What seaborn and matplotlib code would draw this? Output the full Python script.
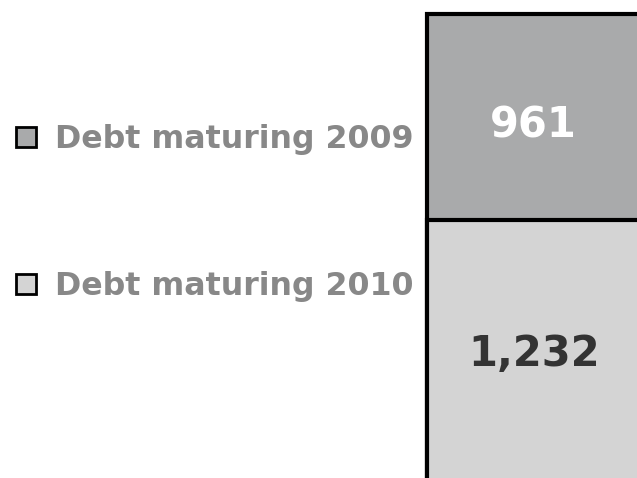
import matplotlib
matplotlib.use("Agg")
import matplotlib.pyplot as plt
from matplotlib.patches import Patch
import pandas as pd
import seaborn as sns

# Debt maturities (stacked in one column)
category = ["Debt"]
series_labels = ["Debt maturing 2009", "Debt maturing 2010"]
debt_2009 = [961]
debt_2010 = [1232]
value_labels_2009 = ["961"]
value_labels_2010 = ["1,232"]

color_2009 = "#a9aaab"
color_2010 = "#d4d4d4"

sns.set_theme(style="white")
plt.rcParams["font.family"] = ["DejaVu Sans"]

df = pd.DataFrame({
    "category": category,
    "d2009": debt_2009,
    "d2010": debt_2010,
})
df["total"] = df["d2009"] + df["d2010"]

fig = plt.figure(figsize=(6.37, 4.78), dpi=100)
ax = fig.add_axes([0, 0, 1, 1])

# Stack: full total drawn first, lower segment drawn over it
sns.barplot(data=df, x="category", y="total", color=color_2009,
            edgecolor="black", linewidth=3, saturation=1, ax=ax)
sns.barplot(data=df, x="category", y="d2010", color=color_2010,
            edgecolor="black", linewidth=3, saturation=1, ax=ax)

ax.set_xlim(-2.003, 0.388)
ax.set_ylim(35, 2257)
ax.set_axis_off()

for i, row in df.iterrows():
    ax.text(i, row["d2010"] + row["d2009"] / 2 - 20, value_labels_2009[i],
            ha="center", va="center_baseline", color="white",
            fontsize=30, fontweight="bold")
    ax.text(i, row["d2010"] / 2 + 15, value_labels_2010[i],
            ha="center", va="center_baseline", color="#333333",
            fontsize=30, fontweight="bold")

handles = [
    Patch(facecolor=color_2009, edgecolor="black", linewidth=2),
    Patch(facecolor=color_2010, edgecolor="black", linewidth=2),
]
fig.legend(handles, series_labels, loc="center left",
           bbox_to_anchor=(16 / 637, 1 - 213 / 478),
           frameon=False, borderpad=0, borderaxespad=0,
           handlelength=0.62, handleheight=0.62, handletextpad=0.62,
           labelspacing=3.66, labelcolor="#888888",
           prop={"weight": "bold", "size": 22.8})

fig.savefig("out.png", dpi=100)
